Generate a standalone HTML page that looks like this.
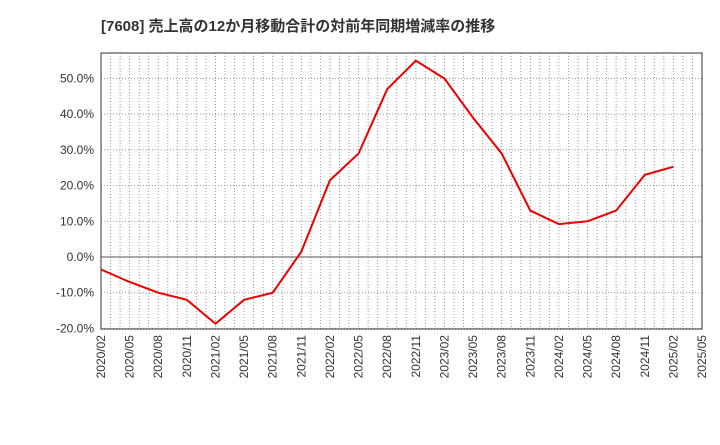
<!DOCTYPE html>
<html><head><meta charset="utf-8"><style>
body{margin:0;background:#fff;width:720px;height:440px;overflow:hidden}
text{font-family:"Liberation Sans","Noto Sans CJK JP",sans-serif}
</style></head><body>
<svg id="chart" width="720" height="440">
<text x="101" y="31" font-size="15" font-weight="bold" fill="#333">[7608]  売上高の12か月移動合計の対前年同期増減率の推移</text>
<g id="grid"></g><g id="axes"></g><g id="series"></g>
</svg>
<script>
const categories=["2020/02","2020/05","2020/08","2020/11","2021/02","2021/05","2021/08","2021/11","2022/02","2022/05","2022/08","2022/11","2023/02","2023/05","2023/08","2023/11","2024/02","2024/05","2024/08","2024/11","2025/02"];
const values=[-3.5,-7,-10,-12,-18.7,-12,-10,1.5,21.5,29,47,55,50,39,29,13,9.2,10,13,23,25.3];
const xTickLabels=["2020/02","2020/05","2020/08","2020/11","2021/02","2021/05","2021/08","2021/11","2022/02","2022/05","2022/08","2022/11","2023/02","2023/05","2023/08","2023/11","2024/02","2024/05","2024/08","2024/11","2025/02","2025/05"];
const yTicks=[-20,-10,0,10,20,30,40,50];
const L=101,R=702,T=53,B=329;
const ns="http://www.w3.org/2000/svg";
const X=i=>L+i*(R-L)/21; // i in quarters
const Y=v=>257-v*3.57;
function mk(t,a,p){const e=document.createElementNS(ns,t);for(const k in a)e.setAttribute(k,a[k]);p.appendChild(e);return e;}
const g=document.getElementById('grid'),ax=document.getElementById('axes'),s=document.getElementById('series');
for(let m=1;m<63;m++){const x=L+m*(R-L)/63;const l=mk('line',{x1:x,x2:x,y1:T,y2:B,stroke:'#999','stroke-width':1,'stroke-dasharray':'1,2'},g);

}
yTicks.forEach(v=>{const y=Y(v);
const l=mk('line',{x1:L,x2:R,y1:y,y2:y,stroke:v===0?'#555':'#999','stroke-width':1,'stroke-dasharray':v===0?'none':'1,2'},g);


const t=mk('text',{x:L-7,y:y+4,'text-anchor':'end','font-size':12,fill:'#333'},ax);t.textContent=v.toFixed(1)+'%';

});
xTickLabels.forEach((c,i)=>{const x=X(i);
const t=mk('text',{transform:`translate(${x+4},${B+6}) rotate(-90)`,'text-anchor':'end','font-size':12,fill:'#333'},ax);t.textContent=c;

});
const fr=mk('rect',{x:L,y:T,width:R-L,height:B-T,fill:'none',stroke:'#333','stroke-width':1},ax);


const pl=mk('polyline',{points:values.map((v,i)=>X(i)+','+Y(v)).join(' '),fill:'none',stroke:'#e00','stroke-width':2},s);


</script>
</body></html>
